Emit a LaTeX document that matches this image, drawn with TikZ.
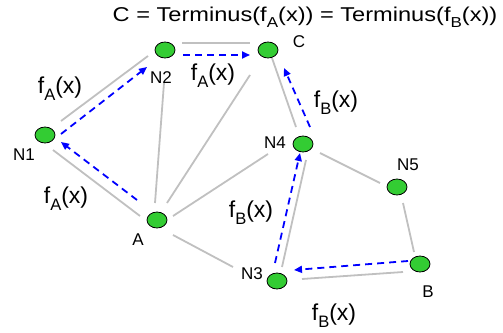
\documentclass[tikz,border=0pt]{standalone}
\usepackage{fontspec}
\setmainfont{Liberation Sans}
\usepackage{xcolor}
\usepackage{tikz}
\usetikzlibrary{shapes.geometric,arrows.meta,calc}

\definecolor{dotgreen}{RGB}{51,204,51}
\definecolor{linkgray}{RGB}{192,192,192}
\newcommand{\lowsub}[1]{\raisebox{-0.32em}{\scalebox{0.72}{#1}}}

\begin{document}
\begin{tikzpicture}[
  x=1pt, y=-1pt,
  dot/.style={ellipse, draw=black, line width=0.8pt, fill=dotgreen, minimum width=20pt, minimum height=16pt, inner sep=0pt},
  tag/.style={anchor=base, inner sep=0pt, font=\fontsize{17}{19}\selectfont},
  fun/.style={anchor=base, inner sep=0pt, font=\fontsize{23}{25}\selectfont},
  link/.style={draw=linkgray, line width=1.8pt},
  route/.style={draw=blue, line width=1.8pt, dash pattern=on 7pt off 5pt, -{Triangle[length=8pt,width=7pt]}}
]
\useasboundingbox (0,0) rectangle (503,332);

% nodes
\node[dot] (N1) at (45,135) {};
\node[dot] (N2) at (165,50) {};
\node[dot] (C) at (268,50) {};
\node[dot] (N4) at (303,144) {};
\node[dot] (N5) at (397,187) {};
\node[dot] (A) at (157,220) {};
\node[dot] (N3) at (277,281) {};
\node[dot] (B) at (420,264) {};

% node names
\node[tag] (tN1) at (24,160) {N1};
\node[tag] (tN2) at (161,83) {N2};
\node[tag] (tC) at (299,47) {C};
\node[tag] (tN4) at (275,148) {N4};
\node[tag] (tN5) at (408,170) {N5};
\node[tag] (tA) at (138,245) {A};
\node[tag] (tN3) at (252,279) {N3};
\node[tag] (tB) at (428,297) {B};

% links
\draw[link] ($(N1)+(16,-14)$) -- ($(N2)+(-17,6)$);
\draw[link] ($(N2)+(17,-7)$) -- ($(C)+(-18,-7)$);
\draw[link] ($(N2)+(-1,33)$) -- ($(A)+(-2,-17)$);
\draw[link] ($(A)+(10,-17)$) -- ($(C)+(-18,25)$);
\draw[link] ($(N1)+(8,15)$) -- ($(A)+(-17,-4)$);
\draw[link] ($(A)+(16,-4)$) -- ($(N4)+(-35,10)$);
\draw[link] ($(A)+(16,15)$) -- ($(N3)+(-44,-14)$);
\draw[link] ($(N3)+(5,-14)$) -- ($(N4)+(3,16)$);
\draw[link] ($(N4)+(-7,-17)$) -- ($(C)+(4,8)$);
\draw[link] ($(N4)+(17,9)$) -- ($(N5)+(-17,-4)$);
\draw[link] ($(N5)+(6,16)$) -- ($(B)+(-6,-12)$);
\draw[link] ($(B)+(-17,8)$) -- ($(N3)+(25,-2)$);

% routes
\draw[route] ($(A)+(-20,-20)$) -- ($(N1)+(16,7)$);
\draw[route] ($(N1)+(16,-1)$) -- ($(N2)+(-18,17)$);
\draw[route] ($(N2)+(18,5)$) -- ($(C)+(-18,5)$);
\draw[route] ($(B)+(-12,-3)$) -- ($(N3)+(17,-11)$);
\draw[route] ($(N3)+(-2,-18)$) -- ($(N4)+(-3,9)$);
\draw[route] ($(N4)+(7,-17)$) -- ($(C)+(16,18)$);

% route labels
\node[fun] (fA1) at (60,93) {f\lowsub{A}(x)};
\node[fun] (fA2) at (213,80) {f\lowsub{A}(x)};
\node[fun] (fA3) at (66,203) {f\lowsub{A}(x)};
\node[fun] (fB1) at (336,107) {f\lowsub{B}(x)};
\node[fun] (fB2) at (251,217) {f\lowsub{B}(x)};
\node[fun] (fB3) at (334,320) {f\lowsub{B}(x)};

\node[anchor=base, inner sep=0pt, font=\fontsize{20}{22}\selectfont] (title) at (305,21)
  {\scalebox{1.18}[1]{C = Terminus(f\lowsub{A}(x)) = Terminus(f\lowsub{B}(x))}};
\end{tikzpicture}
\end{document}
